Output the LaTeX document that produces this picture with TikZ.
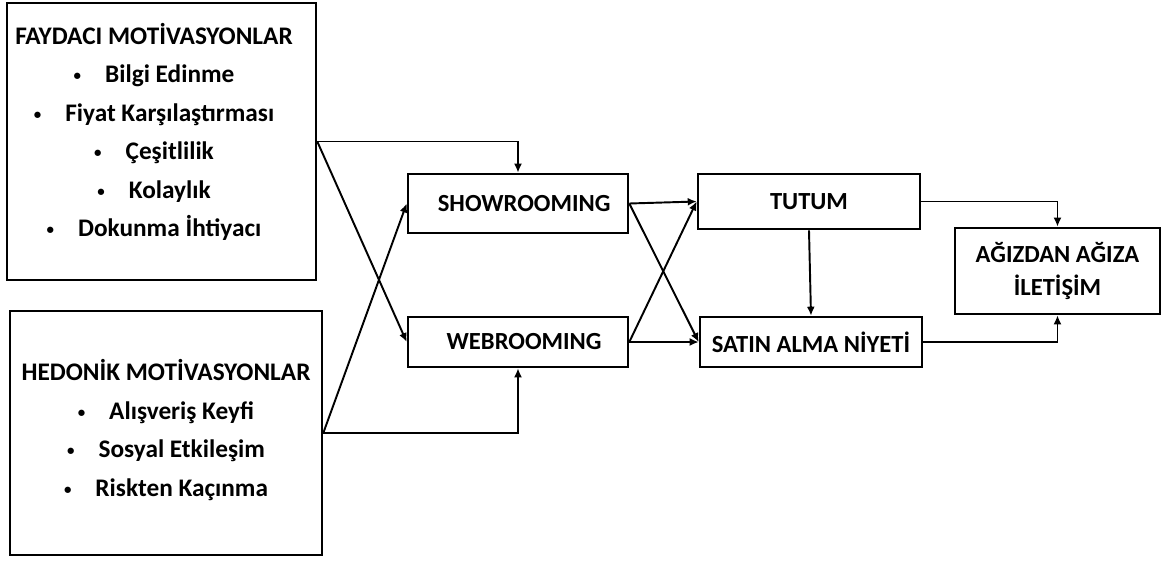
\documentclass[tikz,border=0pt]{standalone}
\usepackage{fontspec}
\setmainfont{Carlito}
\usetikzlibrary{arrows.meta,positioning}
\newcommand\blt{{\fontsize{8.5}{8.5}\selectfont\raisebox{0.3ex}{•}}\hspace{0.95em}}

\begin{document}
\begin{tikzpicture}[x=0.02cm,y=-0.02cm,
  >={Latex[length=1.8mm,width=1.6mm]},
  box/.style={draw,line width=1.5pt,inner sep=0pt,align=center,
    font=\fontsize{14}{19}\selectfont\bfseries},
  lst/.style={align=center,inner sep=0pt,font=\fontsize{14.4}{21.9}\selectfont\bfseries},
  link/.style={->,line width=1.1pt}]
  \useasboundingbox (0,0) rectangle (1171,565);
  \node[box,minimum width=6.18cm,minimum height=5.54cm] (f) at (161.5,141.5) {};
  \node[lst] (ft) at (154,132) {FAYDACI MOTİVASYONLAR\\ \blt Bilgi Edinme\\
    \blt Fiyat Karşılaştırması\\ \blt Çeşitlilik\\ \blt Kolaylık\\ \blt Dokunma İhtiyacı};
  \node[box,minimum width=6.24cm,minimum height=4.88cm] (h) at (166,433) {};
  \node[lst] (ht) at (166,430) {HEDONİK MOTİVASYONLAR\\ \blt Alışveriş Keyfi\\
    \blt Sosyal Etkileşim\\ \blt Riskten Kaçınma};
  \node[box,minimum width=4.4cm,minimum height=1.18cm] (show) at (518,203.5) {\hspace{0.5em}SHOWROOMING};
  \node[box,minimum width=4.4cm,minimum height=1.0cm] (web) at (518,342) {\hspace{0.5em}WEBROOMING};
  \node[box,minimum width=4.44cm,minimum height=1.1cm] (tutum) at (809,201.5) {TUTUM};
  \node[box,minimum width=4.44cm,minimum height=1.0cm] (satin) at (811,342) {SATIN ALMA NİYETİ};
  \node[box,minimum width=4.1cm,minimum height=1.72cm] (agiz) at (1057.5,271) {AĞIZDAN AĞIZA\\İLETİŞİM};
  \draw[link] (f.east) -| (show.north);
  \draw[link] (f.east) -- (web.west);
  \draw[link] (h.east) -- (show.west);
  \draw[link] (h.east) -| (web.south);
  \draw[link] (show.east) -- (tutum.west);
  \draw[link] (show.east) -- (satin.west);
  \draw[link] (web.east) -- (tutum.west);
  \draw[link] (web.east) -- (satin.west);
  \draw[link] (tutum.south) -- (satin.north);
  \draw[link] (tutum.east) -| (agiz.north);
  \draw[link] (satin.east) -| (agiz.south);
\end{tikzpicture}
\end{document}
